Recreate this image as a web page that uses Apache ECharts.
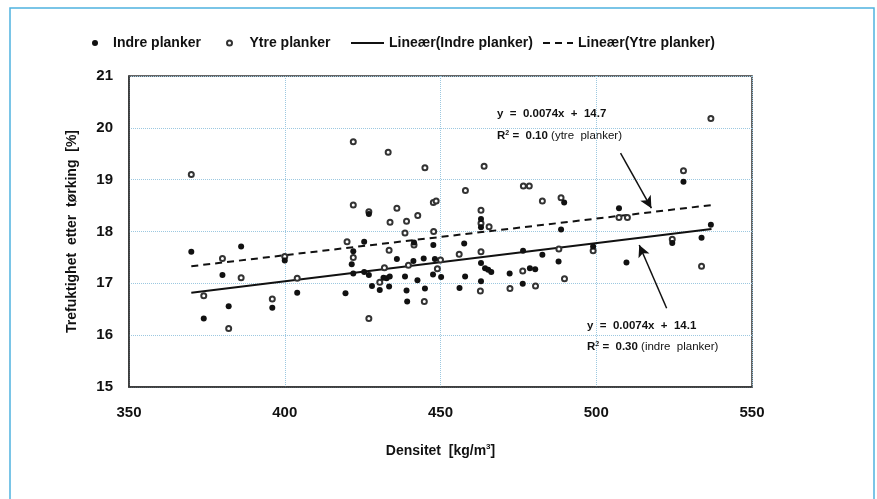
<!DOCTYPE html>
<html>
<head>
<meta charset="utf-8">
<script src="https://cdn.jsdelivr.net/npm/echarts@6/dist/echarts.min.js"></script>
<style>
html, body { margin: 0; padding: 0; background: #fff; }
#mychart { width: 877px; height: 499px; }
</style>
</head>
<body>
<div id="mychart"></div>
<script>
// Indre planker (filled)
var indreX = [370, 386, 380, 382, 374, 400, 404, 396, 419.5, 422, 421.5, 422, 425.5, 425.5, 427, 427, 428, 430.5,
	431.7, 432.7, 433.7, 433.5, 436, 438.6, 439.1, 439.3, 441.5, 441.3, 442.6, 444.6, 445, 447.7, 448.2, 447.6,
	450.2, 456.1, 457.6, 457.9, 463, 463, 463, 463, 464.3, 465.3, 466.3, 472.2, 476.5, 476.4, 478.7, 480.4,
	482.7, 487.9, 488.7, 489.7, 499, 507.3, 509.7, 524.4, 528, 533.8, 536.8];
var indreY = [17.61, 17.71, 17.16, 16.56, 16.32, 17.44, 16.82, 16.53, 16.81, 17.62, 17.37, 17.19, 17.80, 17.22, 18.34, 17.16, 16.95, 16.87,
	17.11, 17.10, 17.13, 16.94, 17.47, 17.13, 16.86, 16.65, 17.79, 17.43, 17.06, 17.48, 16.90, 17.74, 17.47, 17.17,
	17.12, 16.91, 17.77, 17.13, 18.24, 18.08, 17.39, 17.04, 17.29, 17.26, 17.22, 17.19, 17.63, 16.99, 17.29, 17.27,
	17.55, 17.42, 18.04, 18.56, 17.71, 18.45, 17.40, 17.78, 18.96, 17.88, 18.13];
// Ytre planker (open)
var ytreX = [370, 380, 386, 374, 382, 400, 404, 396, 422, 422, 427, 420, 422, 427, 430.5, 433.2, 445, 464,
	458, 447.7, 448.6, 436, 442.7, 433.8, 439.1, 463, 463, 465.6, 438.6, 447.8, 441.5, 433.5, 463, 456,
	450, 449, 439.7, 432, 444.8, 462.8, 472.3, 476.6, 478.5, 482.7, 488.7, 507.3, 510, 488, 499, 476.4,
	489.8, 480.5, 536.8, 528, 524.4, 533.8];
var ytreY = [19.10, 17.48, 17.11, 16.76, 16.13, 17.52, 17.10, 16.70, 19.73, 18.51, 18.38, 17.80, 17.50, 16.32, 17.02, 19.53, 19.23, 19.26,
	18.79, 18.56, 18.59, 18.45, 18.31, 18.18, 18.20, 18.41, 18.16, 18.09, 17.97, 18.00, 17.74, 17.64, 17.61, 17.56,
	17.45, 17.28, 17.35, 17.30, 16.65, 16.85, 16.90, 18.88, 18.88, 18.59, 18.65, 18.27, 18.27, 17.66, 17.63, 17.24,
	17.09, 16.95, 20.18, 19.17, 17.85, 17.33];
// trend lines as drawn
var fitX = [370, 537];
var indreFit = [16.82, 18.05];
var ytreFit = [17.33, 18.51];
// arrows (from, to)
var arrowYtre = [[507.8, 19.51], [517.7, 18.45]];
var arrowIndre = [[522.6, 16.52], [513.8, 17.74]];

function pairs(xs, ys) {
	var out = [];
	for (var i = 0; i < xs.length; i++) out.push([xs[i], ys[i]]);
	return out;
}

var myChart = echarts.init(document.getElementById('mychart'));
var font = 'Liberation Sans, Arial, sans-serif';
var legText = { fontFamily: font, fontWeight: 'bold', fontSize: 14, color: '#111' };

option = {
	backgroundColor: '#fff',
	animation: false,
	legend: [
		{ data: ['Indre planker'], left: 87, top: 31, itemWidth: 26, itemHeight: 6, textStyle: legText },
		{ data: ['Ytre planker'], left: 221, top: 31, itemWidth: 30, itemHeight: 5, textStyle: legText },
		{ data: ['Lineær(Indre planker)'], left: 345, top: 31, itemWidth: 33, itemHeight: 12, textStyle: legText,
			itemStyle: { opacity: 0 } },
		{ data: ['Lineær(Ytre planker)'], left: 537, top: 31, itemWidth: 30, itemHeight: 12, textStyle: legText,
			itemStyle: { opacity: 0 } }
	],
	grid: {
		left: 129, right: 125, top: 76, bottom: 112,
		show: true, borderColor: '#333', borderWidth: 1.5
	},
	xAxis: {
		type: 'value', min: 350, max: 550, interval: 50,
		name: 'Densitet  [kg/m{sup|3}]', nameLocation: 'middle', nameGap: 56,
		nameTextStyle: {
			fontFamily: font, fontWeight: 'bold', fontSize: 14, color: '#111',
			rich: { sup: { fontSize: 8, fontWeight: 'bold', verticalAlign: 'top', padding: [0, 0, 8, 0] } }
		},
		axisLine: { lineStyle: { color: '#333', width: 1.5 } },
		axisTick: { show: false },
		axisLabel: { margin: 18, fontFamily: font, fontWeight: 'bold', fontSize: 15, color: '#111' },
		splitLine: { lineStyle: { color: '#9cc8e0', type: 'dotted' } }
	},
	yAxis: {
		type: 'value', min: 15, max: 21, interval: 1,
		name: 'Trefuktighet  etter  tørking  [%]', nameLocation: 'middle', nameGap: 50,
		nameTextStyle: { fontFamily: font, fontWeight: 'bold', fontSize: 14, color: '#111' },
		axisLine: { show: true, lineStyle: { color: '#333', width: 1.5 } },
		axisTick: { show: false },
		axisLabel: { margin: 16, fontFamily: font, fontWeight: 'bold', fontSize: 15, color: '#111' },
		splitLine: { lineStyle: { color: '#9cc8e0', type: 'dotted' } }
	},
	series: [
		{
			name: 'Indre planker', type: 'scatter', symbol: 'circle', symbolSize: 6,
			itemStyle: { color: '#111', opacity: 1 }, z: 4,
			data: pairs(indreX, indreY)
		},
		{
			name: 'Ytre planker', type: 'scatter', symbol: 'emptyCircle', symbolSize: 5,
			itemStyle: { color: '#333', borderWidth: 1, opacity: 1 }, z: 3,
			data: pairs(ytreX, ytreY)
		},
		{
			name: 'Lineær(Indre planker)', type: 'line', symbol: 'none', showSymbol: false, silent: true,
			lineStyle: { color: '#111', width: 2 }, itemStyle: { color: '#111' },
			data: pairs(fitX, indreFit),
			markLine: {
				silent: true, symbol: ['none', 'arrow'], symbolSize: [9, 12],
				lineStyle: { color: '#111', width: 1.5, type: 'solid' },
				label: { show: false },
				data: [
					[{ coord: arrowYtre[0] }, { coord: arrowYtre[1] }],
					[{ coord: arrowIndre[0] }, { coord: arrowIndre[1] }]
				]
			}
		},
		{
			name: 'Lineær(Ytre planker)', type: 'line', symbol: 'none', showSymbol: false, silent: true,
			lineStyle: { color: '#111', width: 2, type: [7, 5] }, itemStyle: { color: '#111' },
			data: pairs(fitX, ytreFit)
		}
	],
	graphic: [
		{
			type: 'rect', silent: true,
			shape: { x: 10, y: 8, width: 864, height: 540 },
			style: { fill: 'none', stroke: '#4fb3df', lineWidth: 1.5 }
		},
		{
			type: 'text', left: 497, top: 108,
			style: {
				text: 'y  =  0.0074x  +  14.7',
				font: 'bold 11.5px Liberation Sans, Arial, sans-serif', fill: '#111'
			}
		},
		{
			type: 'text', left: 497, top: 130,
			style: {
				text: '{b|R}{s|2}{b| =  0.10}{n| (ytre  planker)}',
				rich: {
					b: { fontFamily: font, fontWeight: 'bold', fontSize: 11.5, fill: '#111' },
					s: { fontFamily: font, fontWeight: 'bold', fontSize: 7, verticalAlign: 'top', fill: '#111' },
					n: { fontFamily: font, fontSize: 11.5, fill: '#111' }
				}
			}
		},
		{
			type: 'text', left: 587, top: 320,
			style: {
				text: 'y  =  0.0074x  +  14.1',
				font: 'bold 11.5px Liberation Sans, Arial, sans-serif', fill: '#111'
			}
		},
		{
			type: 'text', left: 587, top: 341,
			style: {
				text: '{b|R}{s|2}{b| =  0.30}{n| (indre  planker)}',
				rich: {
					b: { fontFamily: font, fontWeight: 'bold', fontSize: 11.5, fill: '#111' },
					s: { fontFamily: font, fontWeight: 'bold', fontSize: 7, verticalAlign: 'top', fill: '#111' },
					n: { fontFamily: font, fontSize: 11.5, fill: '#111' }
				}
			}
		}
	]
};
myChart.setOption(option);
window.onresize = myChart.resize;
</script>
</body>
</html>
